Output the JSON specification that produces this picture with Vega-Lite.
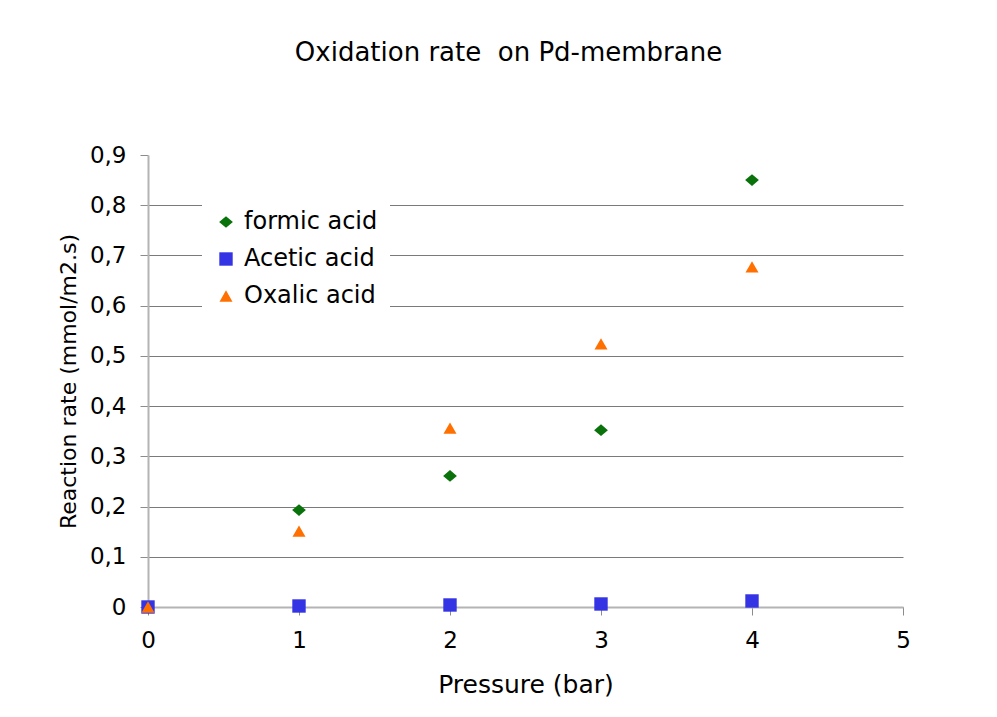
{
  "$schema": "https://vega.github.io/schema/vega-lite/v6.json",
  "width": 755,
  "height": 452,
  "autosize": {"type": "none"},
  "padding": {"left": 148, "top": 155, "right": 94, "bottom": 110},
  "background": "white",
  "title": {
    "text": "Oxidation rate\u00a0 on Pd-membrane",
    "font": "DejaVu Sans",
    "fontSize": 26,
    "fontWeight": "normal",
    "color": "#000000",
    "anchor": "middle",
    "dx": -17,
    "offset": 78
  },
  "data": {
    "values": [
      {"pressure": 0, "rate": 0.0, "acid": "Acetic acid"},
      {"pressure": 1, "rate": 0.002, "acid": "Acetic acid"},
      {"pressure": 2, "rate": 0.004, "acid": "Acetic acid"},
      {"pressure": 3, "rate": 0.006, "acid": "Acetic acid"},
      {"pressure": 4, "rate": 0.012, "acid": "Acetic acid"},
      {"pressure": 0, "rate": 0.0, "acid": "Oxalic acid"},
      {"pressure": 1, "rate": 0.151, "acid": "Oxalic acid"},
      {"pressure": 2, "rate": 0.356, "acid": "Oxalic acid"},
      {"pressure": 3, "rate": 0.524, "acid": "Oxalic acid"},
      {"pressure": 4, "rate": 0.677, "acid": "Oxalic acid"},
      {"pressure": 1, "rate": 0.193, "acid": "formic acid"},
      {"pressure": 2, "rate": 0.261, "acid": "formic acid"},
      {"pressure": 3, "rate": 0.352, "acid": "formic acid"},
      {"pressure": 4, "rate": 0.85, "acid": "formic acid"}
    ]
  },
  "mark": {"type": "point", "filled": true, "opacity": 1},
  "encoding": {
    "x": {
      "field": "pressure",
      "type": "quantitative",
      "scale": {"domain": [0, 5], "nice": false, "zero": false},
      "axis": {
        "title": "Pressure (bar)",
        "titleFont": "DejaVu Sans",
        "titleFontSize": 25,
        "titleFontWeight": "normal",
        "titleColor": "#000000",
        "titlePadding": 20,
        "values": [0, 1, 2, 3, 4, 5],
        "format": "d",
        "labelFont": "DejaVu Sans",
        "labelFontSize": 23,
        "labelColor": "#000000",
        "labelPadding": 14,
        "labelFlush": false,
        "labelOverlap": false,
        "grid": false,
        "domainColor": "#b4b4b4",
        "domainWidth": 2,
        "tickColor": "#8c8c8c",
        "tickSize": 8,
        "tickWidth": 1
      }
    },
    "y": {
      "field": "rate",
      "type": "quantitative",
      "scale": {"domain": [0, 0.9], "nice": false},
      "axis": {
        "title": "Reaction rate (mmol/m2.s)",
        "titleFont": "DejaVu Sans",
        "titleFontSize": 22,
        "titleFontWeight": "normal",
        "titleColor": "#000000",
        "titlePadding": 9,
        "values": [0, 0.1, 0.2, 0.3, 0.4, 0.5, 0.6, 0.7, 0.8, 0.9],
        "labelExpr": "replace(format(datum.value, '.1~f'), '.', ',')",
        "labelFont": "DejaVu Sans",
        "labelFontSize": 23,
        "labelColor": "#000000",
        "labelPadding": 14,
        "labelFlush": false,
        "labelOverlap": false,
        "grid": true,
        "gridColor": "#7a7a7a",
        "gridWidth": 1,
        "gridOpacity": {"condition": {"test": "datum.value > 0.85", "value": 0}, "value": 1},
        "domainColor": "#b4b4b4",
        "domainWidth": 2,
        "tickColor": "#8c8c8c",
        "tickSize": 8,
        "tickWidth": 1
      }
    },
    "color": {
      "field": "acid",
      "type": "nominal",
      "scale": {
        "domain": ["formic acid", "Acetic acid", "Oxalic acid"],
        "range": ["#0a720a", "#3434e4", "#ff7000"]
      },
      "legend": {
        "title": null,
        "orient": "none",
        "legendX": 54,
        "legendY": 43,
        "fillColor": "white",
        "padding": 12,
        "labelFont": "DejaVu Sans",
        "labelFontSize": 24,
        "labelColor": "#000000",
        "labelOffset": 6,
        "rowPadding": 13,
        "symbolSize": 150,
        "symbolOpacity": 1
      }
    },
    "shape": {
      "field": "acid",
      "type": "nominal",
      "scale": {
        "domain": ["formic acid", "Acetic acid", "Oxalic acid"],
        "range": ["M-1,0L0,-0.85L1,0L0,0.85Z", "square", "triangle-up"]
      },
      "legend": null
    },
    "size": {
      "field": "acid",
      "type": "nominal",
      "scale": {
        "domain": ["formic acid", "Acetic acid", "Oxalic acid"],
        "range": [190, 169, 180]
      },
      "legend": null
    }
  },
  "config": {
    "view": {"stroke": null}
  }
}
